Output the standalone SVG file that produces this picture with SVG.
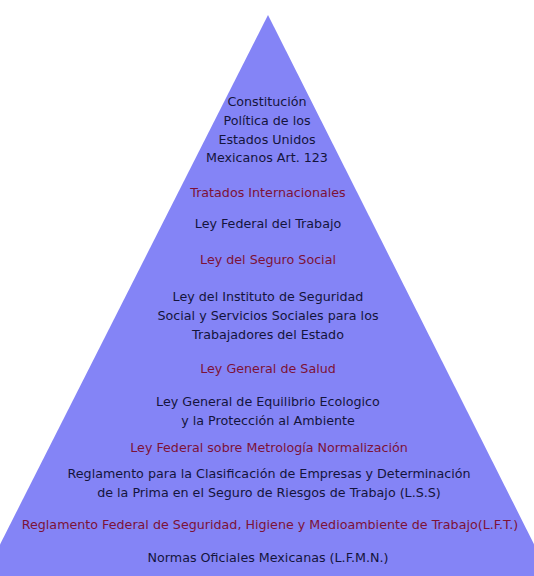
<svg xmlns="http://www.w3.org/2000/svg" width="534" height="576" viewBox="0 0 534 576">
<style>
text{font-family:"DejaVu Sans","Liberation Sans",sans-serif;font-size:12.7px;text-anchor:middle}
.d{fill:#14143c}
.r{fill:#7c1238}
</style>
<rect width="534" height="576" fill="#ffffff"/>
<polygon id="pyramid" points="268,15 -16,576 550,576" fill="#8484f6"/>
<g id="constitucion" class="d">
<text x="267" y="106">Constitución</text>
<text x="267" y="125">Política de los</text>
<text x="267" y="144">Estados Unidos</text>
<text x="267" y="162">Mexicanos Art. 123</text>
</g>
<g id="tratados"><text class="r" x="268" y="197">Tratados Internacionales</text></g>
<g id="lft"><text class="d" x="268" y="228">Ley Federal del Trabajo</text></g>
<g id="lss"><text class="r" x="268" y="264">Ley del Seguro Social</text></g>
<g id="issste" class="d">
<text x="268" y="301">Ley del Instituto de Seguridad</text>
<text x="268" y="320">Social y Servicios Sociales para los</text>
<text x="268" y="339">Trabajadores del Estado</text>
</g>
<g id="lgs"><text class="r" x="268" y="373">Ley General de Salud</text></g>
<g id="lgeepa" class="d">
<text x="268" y="406">Ley General de Equilibrio Ecologico</text>
<text x="268" y="425">y la Protección al Ambiente</text>
</g>
<g id="lfmn"><text class="r" x="269" y="452">Ley Federal sobre Metrología Normalización</text></g>
<g id="reglamento-lss" class="d">
<text x="269" y="478">Reglamento para la Clasificación de Empresas y Determinación</text>
<text x="269" y="497">de la Prima en el Seguro de Riesgos de Trabajo (L.S.S)</text>
</g>
<g id="reglamento-lft"><text class="r" x="270" y="529">Reglamento Federal de Seguridad, Higiene y Medioambiente de Trabajo(L.F.T.)</text></g>
<g id="normas"><text class="d" x="268" y="562">Normas Oficiales Mexicanas (L.F.M.N.)</text></g>
</svg>
